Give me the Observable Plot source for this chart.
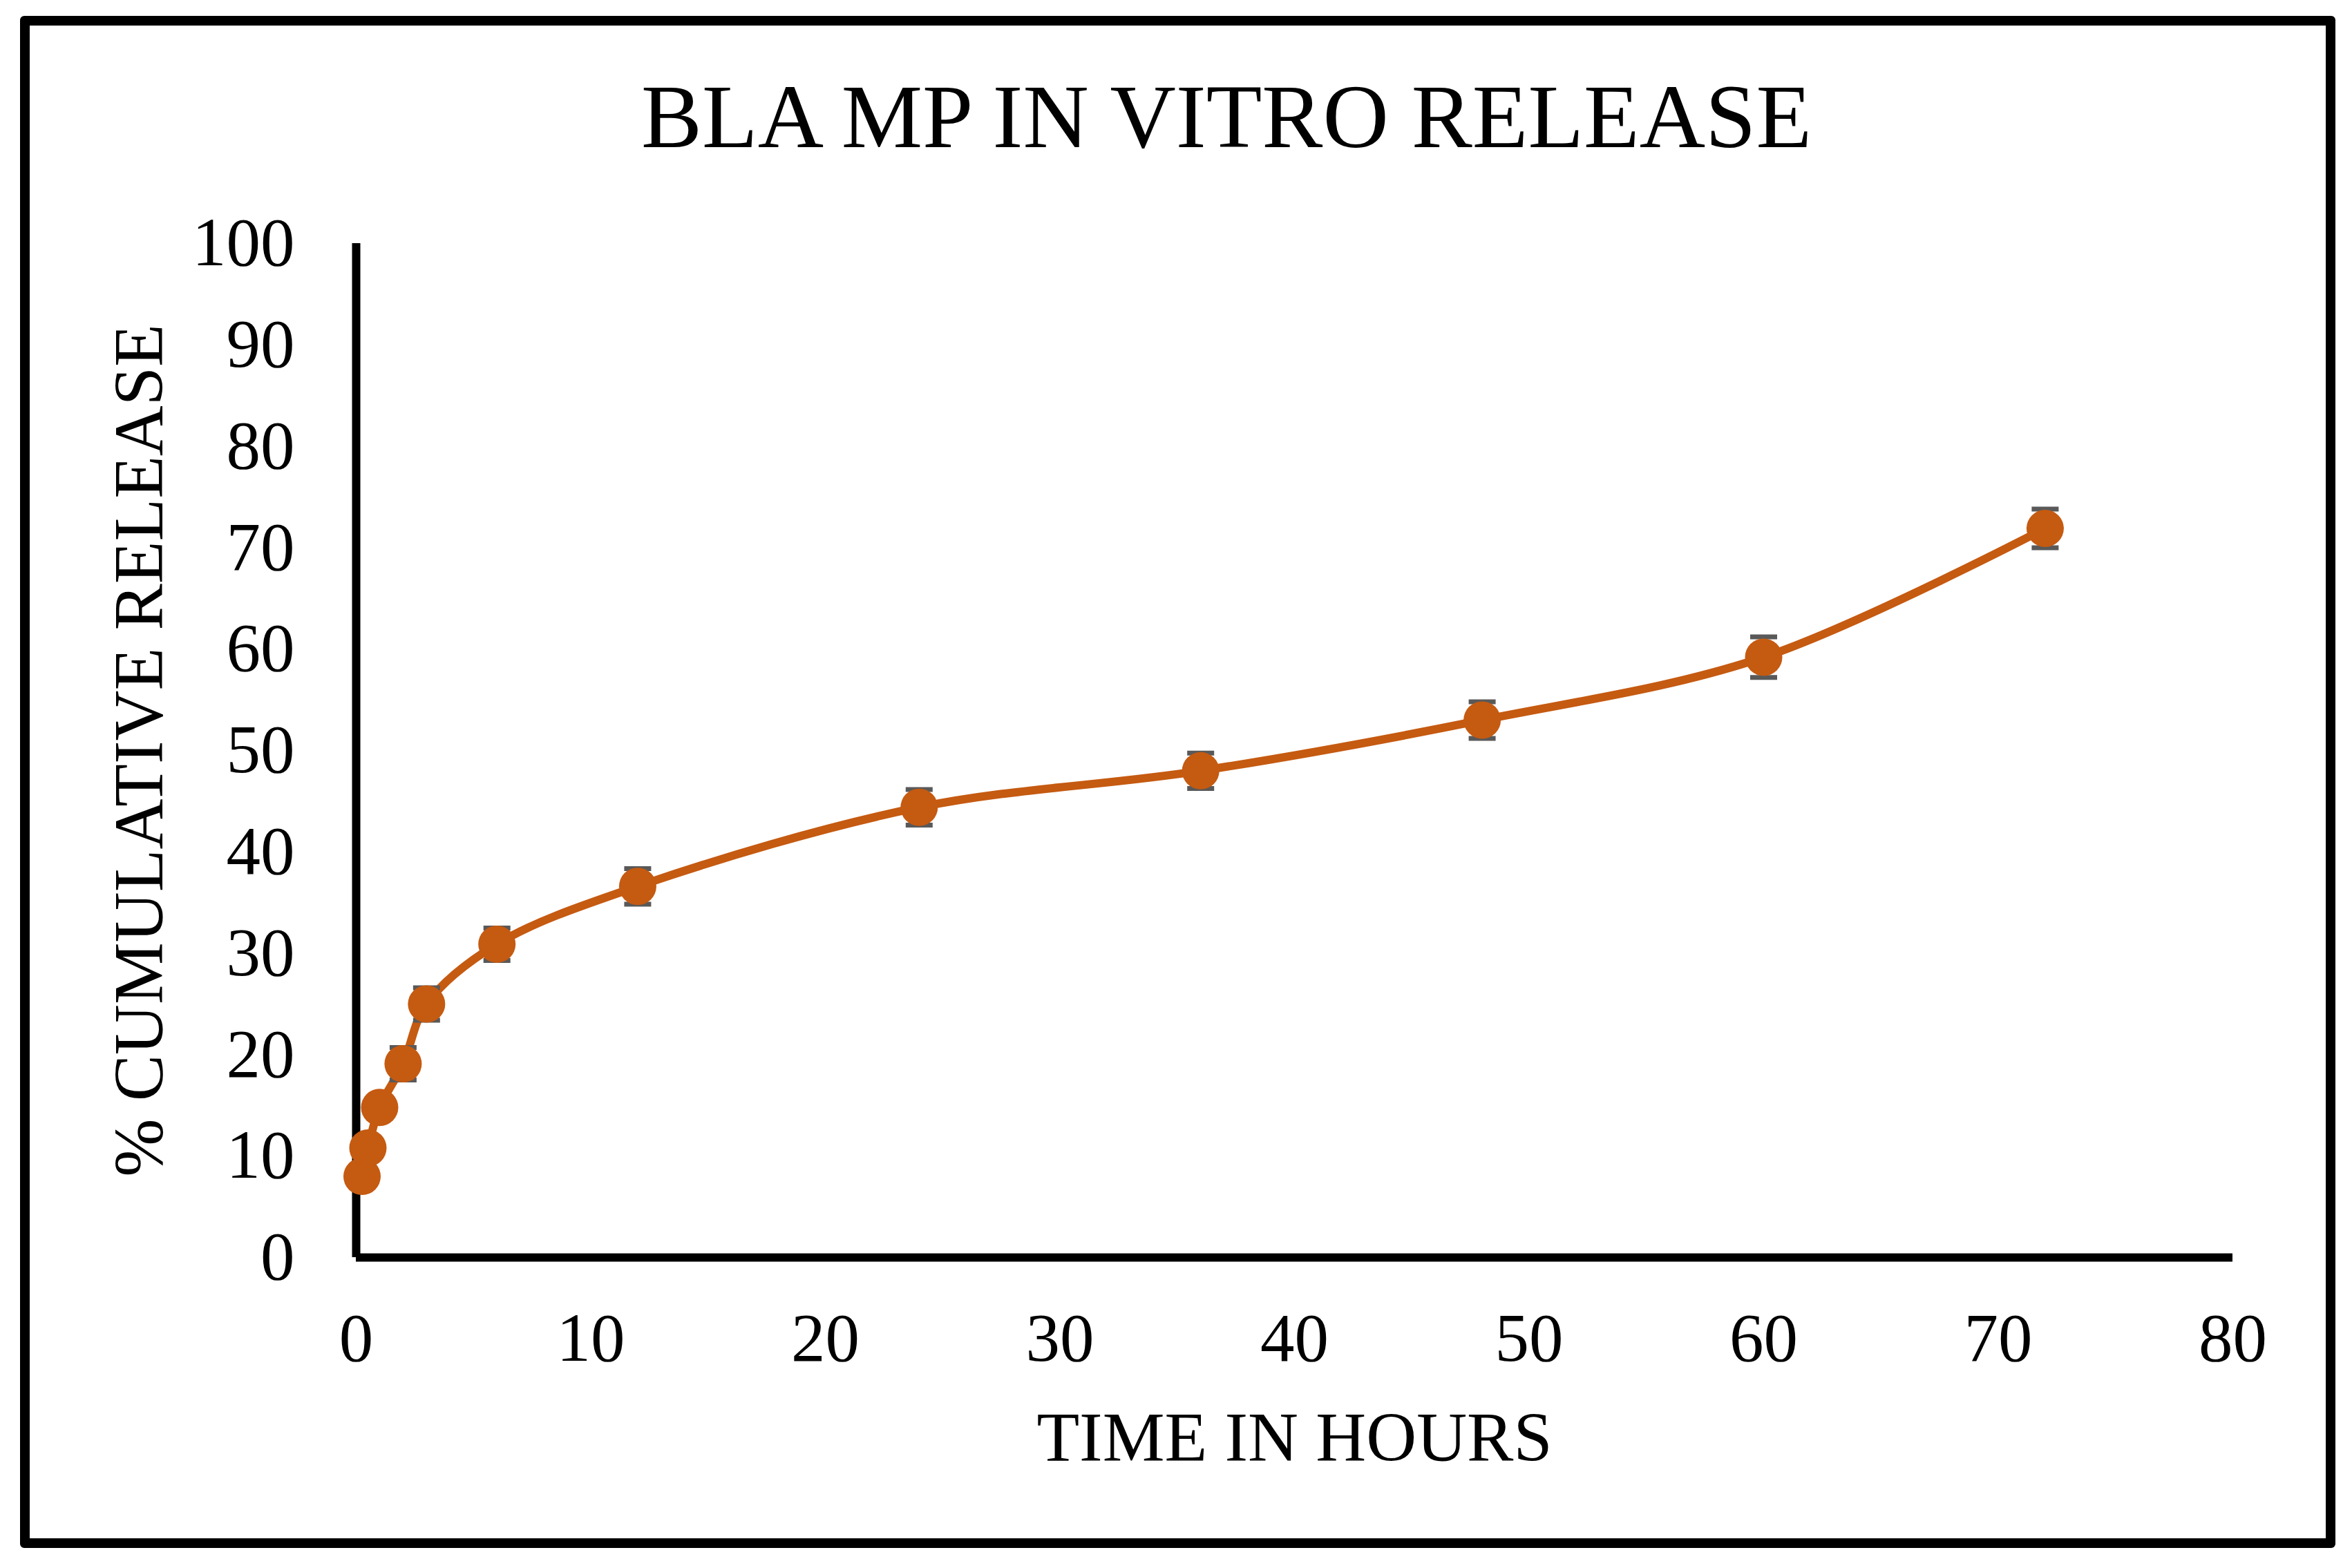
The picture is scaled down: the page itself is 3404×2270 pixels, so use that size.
<!DOCTYPE html>
<html>
<head>
<meta charset="utf-8">
<script src="https://cdn.jsdelivr.net/npm/d3@7"></script>
<script src="https://cdn.jsdelivr.net/npm/@observablehq/plot@0.6"></script>
<style>
  html, body { margin: 0; padding: 0; background: #fff; }
  #wrap { position: relative; width: 3404px; height: 2270px; background: #fff; overflow: hidden; }
  #chart { position: absolute; left: 0; top: 0; }
  #frame { position: absolute; left: 29px; top: 23px; width: 3351px; height: 2218px; box-sizing: border-box; border: 14px solid #000; border-radius: 6px; pointer-events: none; }
  #title { position: absolute; left: 1775px; top: 103px; transform: translateX(-50%); white-space: nowrap; font-family: "Liberation Serif", serif; font-size: 132px; line-height: 1; color: #000; }
</style>
</head>
<body>
<div id="wrap">
  <div id="chart"></div>
  <div id="frame"></div>
  <div id="title">BLA MP IN VITRO RELEASE</div>
</div>
<script>
// ---- data ----
const hours   = [0.25, 0.5, 1, 2, 3, 6, 12, 24, 36, 48, 60, 72];
const release = [8.0, 10.8, 14.8, 19.1, 25.0, 30.9, 36.6, 44.4, 48.0, 53.0, 59.2, 71.9];
const sd      = [0.6, 0.8, 1.0, 1.6, 1.6, 1.6, 1.75, 1.75, 1.75, 1.8, 2.0, 1.9];
const xTicks  = [0, 10, 20, 30, 40, 50, 60, 70, 80];
const yTicks  = [0, 10, 20, 30, 40, 50, 60, 70, 80, 90, 100];
const xTitle  = "TIME IN HOURS";
const yTitle  = "% CUMULATIVE RELEASE";

const rows = hours.map((h, i) => ({h, r: release[i], e: sd[i]}));

const orange = "#C55A11";
const grey = "#595959";

// horizontal cap symbol for error bars
const capSymbol = {
  draw(context, size) {
    const w = Math.sqrt(size / Math.PI);
    context.moveTo(-w, 0);
    context.lineTo(w, 0);
  }
};

const chart = Plot.plot({
  width: 3404,
  height: 2270,
  marginLeft: 515,
  marginRight: 173,
  marginTop: 352,
  marginBottom: 450,
  style: {
    fontFamily: "'Liberation Serif', serif",
    fontSize: "99px",
    background: "transparent",
    color: "#000",
    overflow: "visible"
  },
  x: {domain: [0, 80], ticks: xTicks, tickSize: 0, tickPadding: 79, label: null},
  y: {domain: [0, 100], ticks: yTicks, tickSize: 0, tickPadding: 89, label: null},
  marks: [
    Plot.ruleX([0], {stroke: "#000", strokeWidth: 12}),
    Plot.ruleY([0], {stroke: "#000", strokeWidth: 12}),
    Plot.line(rows, {x: "h", y: "r", stroke: orange, strokeWidth: 12, curve: "catmull-rom"}),
    Plot.ruleX(rows, {x: "h", y1: d => d.r - d.e, y2: d => d.r + d.e, stroke: grey, strokeWidth: 6}),
    Plot.dot(rows, {x: "h", y: d => d.r + d.e, symbol: capSymbol, r: 19.5, stroke: grey, strokeWidth: 7, fill: "none"}),
    Plot.dot(rows, {x: "h", y: d => d.r - d.e, symbol: capSymbol, r: 19.5, stroke: grey, strokeWidth: 7, fill: "none"}),
    Plot.dot(rows, {x: "h", y: "r", r: 27, fill: orange, stroke: "none"}),
    Plot.text([xTitle], {frameAnchor: "bottom", lineAnchor: "bottom", dy: 294, fontSize: 101, fill: "#000"}),
    Plot.text([yTitle], {frameAnchor: "left", rotate: -90, textAnchor: "middle", lineAnchor: "bottom", dx: -281, fontSize: 101, fill: "#000"})
  ]
});

document.getElementById("chart").appendChild(chart);
</script>
</body>
</html>
